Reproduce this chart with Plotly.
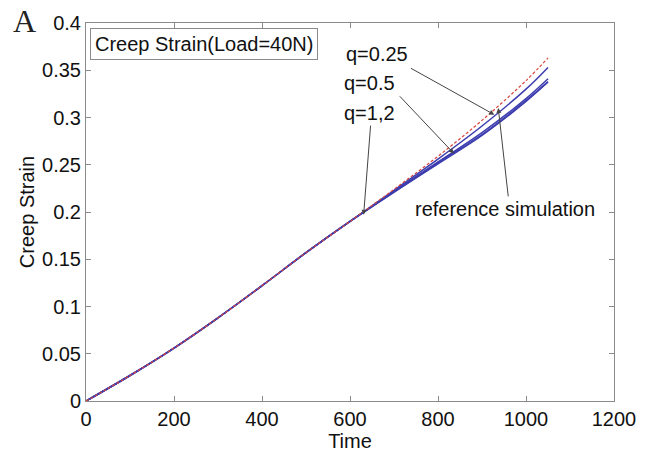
import plotly.graph_objects as go

time = [0, 100, 200, 300, 400, 500, 600, 700, 800, 900, 1000, 1050]
ref_sim = [0, 0.027, 0.056, 0.088, 0.122, 0.157, 0.190, 0.224, 0.259, 0.297, 0.339, 0.363]
q025 = [0, 0.027, 0.056, 0.088, 0.122, 0.157, 0.190, 0.223, 0.256, 0.291, 0.330, 0.353]
q05 = [0, 0.027, 0.056, 0.088, 0.122, 0.157, 0.190, 0.222, 0.253, 0.284, 0.320, 0.341]
q1 = [0, 0.027, 0.056, 0.088, 0.122, 0.157, 0.190, 0.221, 0.252, 0.282, 0.318, 0.338]
q2 = [0, 0.027, 0.056, 0.088, 0.122, 0.157, 0.190, 0.221, 0.251, 0.281, 0.317, 0.3375]

x_ticks = [0, 200, 400, 600, 800, 1000, 1200]
y_ticks = [0, 0.05, 0.1, 0.15, 0.2, 0.25, 0.3, 0.35, 0.4]
y_ticktext = ["0", "0.05", "0.1", "0.15", "0.2", "0.25", "0.3", "0.35", "0.4"]

blue = "rgb(60,60,175)"
red = "rgb(215,70,60)"

fig = go.Figure()
for name, ys in [("q=0.25", q025), ("q=0.5", q05), ("q=1", q1), ("q=2", q2)]:
    fig.add_trace(go.Scatter(x=time, y=ys, mode="lines", name=name,
                             line=dict(color=blue, width=1.5), line_shape="spline"))
fig.add_trace(go.Scatter(x=time, y=ref_sim, mode="lines", name="reference simulation",
                         line=dict(color=red, width=1.2, dash="3px,2px"), line_shape="spline"))

font = "Liberation Sans, Arial, sans-serif"
axis_common = dict(showline=True, linecolor="#8a8a8a", linewidth=1, mirror="ticks",
                   ticks="inside", ticklen=5, tickcolor="#8a8a8a", showgrid=False,
                   zeroline=False, tickfont=dict(family=font, size=20, color="#111"))

fig.update_layout(
    width=648, height=456,
    margin=dict(l=86, r=28, t=22, b=48),
    paper_bgcolor="white", plot_bgcolor="white",
    showlegend=False,
    xaxis=dict(range=[0, 1200], tickvals=x_ticks, ticktext=[str(v) for v in x_ticks],
               title=dict(text="Time", font=dict(family=font, size=20, color="#111"), standoff=0),
               **axis_common),
    yaxis=dict(range=[0, 0.4], tickvals=y_ticks, ticktext=y_ticktext,
               title=dict(text="Creep Strain", font=dict(family=font, size=20, color="#111"), standoff=2),
               **axis_common),
)

anns = []
# panel label
anns.append(dict(text="A", xref="paper", yref="paper", x=-0.117, y=1.005, xanchor="center", yanchor="middle",
                 showarrow=False, font=dict(family="Liberation Serif, serif", size=32, color="#222")))
# title box
anns.append(dict(text="Creep Strain(Load=40N)", xref="paper", yref="paper", x=0.0075, y=0.988,
                 xanchor="left", yanchor="top", showarrow=False,
                 font=dict(family=font, size=20, color="#111"),
                 bordercolor="#8a8a8a", borderwidth=1, borderpad=4, bgcolor="white"))
# labels
for txt, tx, ty in [("q=0.25", 661, 0.367), ("q=0.5", 645, 0.336), ("q=1,2", 645, 0.305),
                    ("reference simulation", 953, 0.203)]:
    anns.append(dict(text=txt, x=tx, y=ty, xref="x", yref="y", showarrow=False,
                     font=dict(family=font, size=20, color="#111")))
# arrows
for hx, hy, tx, ty in [(928, 0.303, 735, 0.353), (836, 0.262, 710, 0.324),
                       (631, 0.197, 647, 0.293), (937, 0.310, 960, 0.215)]:
    anns.append(dict(text="", x=hx, y=hy, ax=tx, ay=ty, xref="x", yref="y", axref="x", ayref="y",
                     showarrow=True, arrowhead=2, arrowsize=1, arrowwidth=1, arrowcolor="#444"))
fig.update_layout(annotations=anns)

fig.write_html("out.html")
